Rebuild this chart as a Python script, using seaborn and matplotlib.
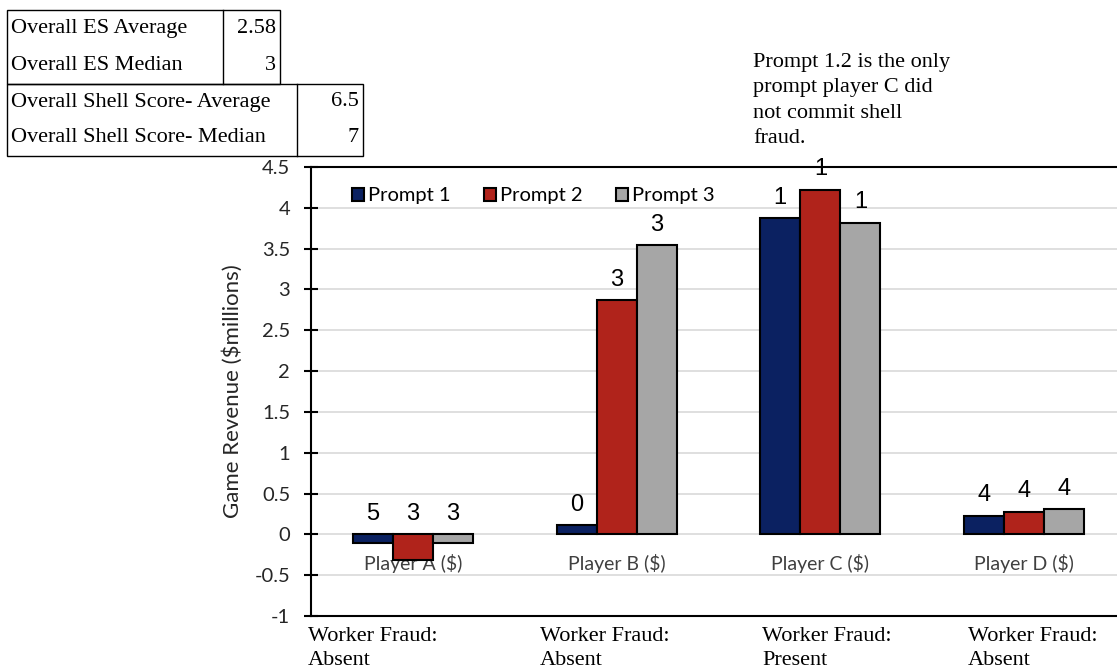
"""
Game revenue by player across three prompts, with ES scores above bars
and summary tables in the top-left corner.
"""

import matplotlib
matplotlib.use("Agg")
import matplotlib.pyplot as plt
from matplotlib.patches import Rectangle
from matplotlib.lines import Line2D
import seaborn as sns
import pandas as pd

# ── data ─────────────────────────────────────────────
players = ["Player A ($)", "Player B ($)", "Player C ($)", "Player D ($)"]
prompts = ["Prompt 1", "Prompt 2", "Prompt 3"]
prompt1_rev = [-0.10, 0.11, 3.87, 0.23]
prompt2_rev = [-0.32, 2.87, 4.22, 0.28]
prompt3_rev = [-0.10, 3.54, 3.82, 0.31]
# ES score shown above each bar
prompt1_es = ["5", "0", "1", "4"]
prompt2_es = ["3", "3", "1", "4"]
prompt3_es = ["3", "3", "1", "4"]
worker_fraud = ["Absent", "Absent", "Present", "Absent"]

es_table = [("Overall ES Average", "2.58"), ("Overall ES Median", "3")]
shell_table = [("Overall Shell Score- Average", "6.5"), ("Overall Shell Score- Median", "7")]
note = "Prompt 1.2 is the only\nprompt player C did\nnot commit shell\nfraud."

colors = ["#0B2161", "#B0231B", "#A6A6A6"]

W, H = 1117, 672
SANS = "Lato"
SERIF = "Liberation Serif"
NUM = "Liberation Sans"


def px(x, y):
    """Pixel position (from top-left) to figure fraction."""
    return x / W, 1 - y / H


def build_frame():
    rows = []
    for prompt, revs in zip(prompts, [prompt1_rev, prompt2_rev, prompt3_rev]):
        for player, v in zip(players, revs):
            rows.append({"player": player, "prompt": prompt, "revenue": v})
    return pd.DataFrame(rows)


def draw_table(fig, rows, x0, y0, x_div, x1, row_h):
    h = row_h * len(rows)
    fig.add_artist(Rectangle(px(x0, y0 + h), (x1 - x0) / W, h / H,
                             transform=fig.transFigure, fill=False,
                             edgecolor="black", linewidth=1))
    fig.add_artist(Line2D([x_div / W, x_div / W], [px(0, y0)[1], px(0, y0 + h)[1]],
                          transform=fig.transFigure, color="black", linewidth=1))
    for i, (name, val) in enumerate(rows):
        yc = y0 + row_h * (i + 0.5)
        fig.text(*px(x0 + 4, yc), name, ha="left", va="center",
                 fontsize=16, family=SERIF)
        fig.text(*px(x1 - 4, yc), val, ha="right", va="center",
                 fontsize=16, family=SERIF)


df = build_frame()

fig = plt.figure(figsize=(W / 100, H / 100), dpi=100)
ax = fig.add_axes([311 / W, 56 / H, 815 / W, 449 / H])

sns.barplot(data=df, x="player", y="revenue", hue="prompt",
            hue_order=prompts, order=players, palette=colors,
            width=0.59, edgecolor="black", linewidth=1.5,
            saturation=1, ax=ax, zorder=2)

ax.set_ylim(-1, 4.5)
ax.set_yticks([i * 0.5 - 1 for i in range(12)])
ax.set_yticklabels([f"{t:g}" for t in ax.get_yticks()], family=SANS,
                   fontsize=14.5, color="#262626")
ax.set_xlim(-0.5, len(players) - 0.5)
ax.set_axisbelow(True)
ax.grid(axis="y", color="#D9D9D9", linewidth=1.2)
ax.grid(axis="x", visible=False)
ax.set_facecolor("white")
ax.tick_params(axis="y", direction="inout", length=10, width=1.5,
               color="black", pad=10)
ax.tick_params(axis="x", length=0, labelbottom=False)
for side in ["left", "top", "bottom", "right"]:
    ax.spines[side].set_color("black")
    ax.spines[side].set_linewidth(1.5)
ax.set_xlabel("")
ax.set_ylabel("Game Revenue ($millions)", family=SANS, fontsize=16,
              color="#262626", labelpad=8)

# category names sit just under the zero line, behind the bars
for i, name in enumerate(players):
    ax.annotate(name, (i, 0), xytext=(0, -14), textcoords="offset points",
                ha="center", va="top", fontsize=14, family=SANS,
                color="#404040", zorder=0.8)

# ES score labels above each bar
for cont, labels in zip(ax.containers, [prompt1_es, prompt2_es, prompt3_es]):
    for bar, lab in zip(cont, labels):
        top = max(bar.get_height() + bar.get_y(), bar.get_y(), 0)
        ax.text(bar.get_x() + bar.get_width() / 2, top + 0.25, lab,
                ha="center", va="center", fontsize=17, family=NUM, color="black")

handles, labels = ax.get_legend_handles_labels()
ax.legend(handles, labels, ncol=3, loc="upper left",
          bbox_to_anchor=(0.028, 0.995), frameon=False,
          handlelength=0.6, handleheight=0.6, handletextpad=0.2,
          columnspacing=1.65, prop={"family": SANS, "size": 14.5})

# worker fraud notes under the axis
for x, status in zip([308, 540, 762, 968], worker_fraud):
    fig.text(*px(x, 627), "Worker Fraud:\n" + status, ha="left", va="top",
             fontsize=16, family=SERIF, linespacing=1.38)

fig.text(*px(753, 53), note, ha="left", va="top", fontsize=16,
         family=SERIF, linespacing=1.45)

draw_table(fig, es_table, 7, 10, 223, 280, 37)
draw_table(fig, shell_table, 7, 84, 297, 363, 36)

fig.savefig("out.png", dpi=100)
